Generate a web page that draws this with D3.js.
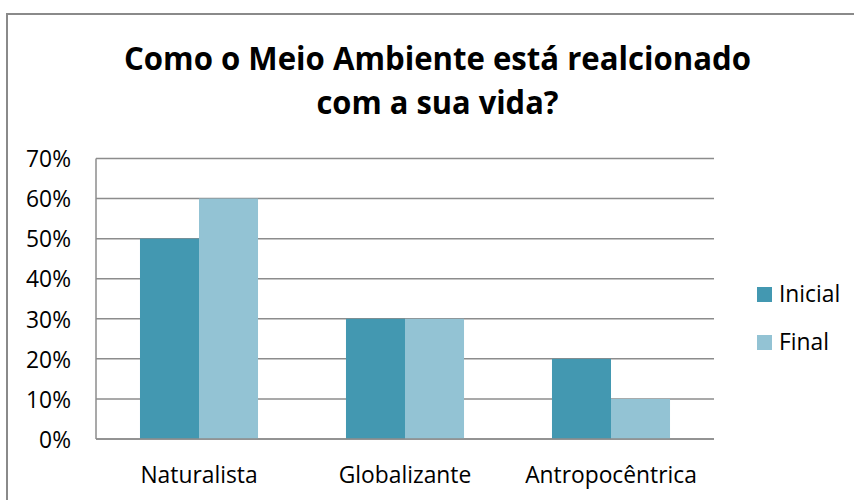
<!DOCTYPE html>
<html>
<head>
<meta charset="utf-8">
<script src="https://cdn.jsdelivr.net/npm/d3@7/dist/d3.min.js"></script>
<style>
  html, body { margin: 0; padding: 0; background: #fff; }
  svg { display: block; font-family: "Open Sans", sans-serif; }
</style>
</head>
<body>
<svg id="chart" width="854" height="500"></svg>
<script>
const categories = ["Naturalista", "Globalizante", "Antropocêntrica"];
const seriesNames = ["Inicial", "Final"];
const inicialValues = [0.50, 0.30, 0.20];
const finalValues = [0.60, 0.30, 0.10];
const yTicks = [0, 0.1, 0.2, 0.3, 0.4, 0.5, 0.6, 0.7];
const titleLines = ["Como o Meio Ambiente está realcionado", "com a sua vida?"];

const colors = { "Inicial": "#4398b1", "Final": "#93c3d4" };
const svg = d3.select("#chart");
const FS = 22.8;

// outer border
svg.append("rect").attr("x", 7).attr("y", 14).attr("width", 860).attr("height", 500)
  .attr("fill", "none").attr("stroke", "#8a8a8a").attr("stroke-width", 2);

const plot = { left: 96, right: 714, top: 158.5, bottom: 439 };

const x0 = d3.scaleBand().domain(categories).range([plot.left, plot.right])
  .paddingInner(0.427).paddingOuter(0.2135);
const x1 = d3.scaleBand().domain(seriesNames).range([0, x0.bandwidth()]);
const y = d3.scaleLinear().domain([0, 0.7]).range([plot.bottom, plot.top]);

// gridlines
svg.append("g").selectAll("line").data(yTicks).join("line")
  .attr("x1", plot.left).attr("x2", plot.right)
  .attr("y1", d => y(d)).attr("y2", d => y(d))
  .attr("stroke", "#8c8c8c").attr("stroke-width", 1.5);

// left axis line
svg.append("line").attr("x1", plot.left).attr("x2", plot.left)
  .attr("y1", plot.top).attr("y2", plot.bottom)
  .attr("stroke", "#8c8c8c").attr("stroke-width", 1.5);

// bars
const data = categories.map((c, i) => ({ cat: c, vals: [
  { s: "Inicial", v: inicialValues[i] }, { s: "Final", v: finalValues[i] } ] }));

const groups = svg.append("g").selectAll("g").data(data).join("g")
  .attr("transform", d => `translate(${x0(d.cat)},0)`);
groups.selectAll("rect").data(d => d.vals).join("rect")
  .attr("x", d => x1(d.s)).attr("width", x1.bandwidth())
  .attr("y", d => y(d.v)).attr("height", d => y(0) - y(d.v))
  .attr("fill", d => colors[d.s]);

// redraw baseline on top
svg.append("line").attr("x1", plot.left).attr("x2", plot.right)
  .attr("y1", y(0)).attr("y2", y(0))
  .attr("stroke", "#8c8c8c").attr("stroke-width", 1.5);

// y labels
const yAxis = d3.axisLeft(y).tickValues(yTicks).tickFormat(d3.format(".0%")).tickSize(0).tickPadding(0);
const gy = svg.append("g").attr("transform", `translate(71,0)`).call(yAxis);
gy.select(".domain").remove();
gy.selectAll("text").attr("font-family", "'Open Sans', sans-serif").attr("font-size", FS)
  .attr("fill", "#000").attr("dy", "0.36em");

// x labels
const xAxis = d3.axisBottom(x0).tickSize(0).tickPadding(0);
const gx = svg.append("g").attr("transform", `translate(0,483)`).call(xAxis);
gx.select(".domain").remove();
gx.selectAll("text").attr("font-family", "'Open Sans', sans-serif").attr("font-size", FS)
  .attr("fill", "#000").attr("dy", 0);

// title
const titleWidths = [627, 242];
const titleBaselines = [70, 114];
titleLines.forEach((t, i) => {
  svg.append("text").attr("x", 437.5).attr("y", titleBaselines[i])
    .attr("text-anchor", "middle").attr("font-weight", "bold")
    .attr("font-size", 33).attr("font-family", "'Open Sans', sans-serif")
    .attr("textLength", titleWidths[i]).attr("lengthAdjust", "spacingAndGlyphs")
    .attr("fill", "#000").text(t);
});

// legend
const legend = svg.append("g").selectAll("g").data(seriesNames).join("g")
  .attr("transform", (d, i) => `translate(757,${287 + i * 48})`);
legend.append("rect").attr("width", 15).attr("height", 15).attr("fill", d => colors[d]);
legend.append("text").attr("x", 22).attr("y", 15).attr("font-size", FS)
  .attr("font-family", "'Open Sans', sans-serif").attr("fill", "#000").text(d => d);
</script>
</body>
</html>
